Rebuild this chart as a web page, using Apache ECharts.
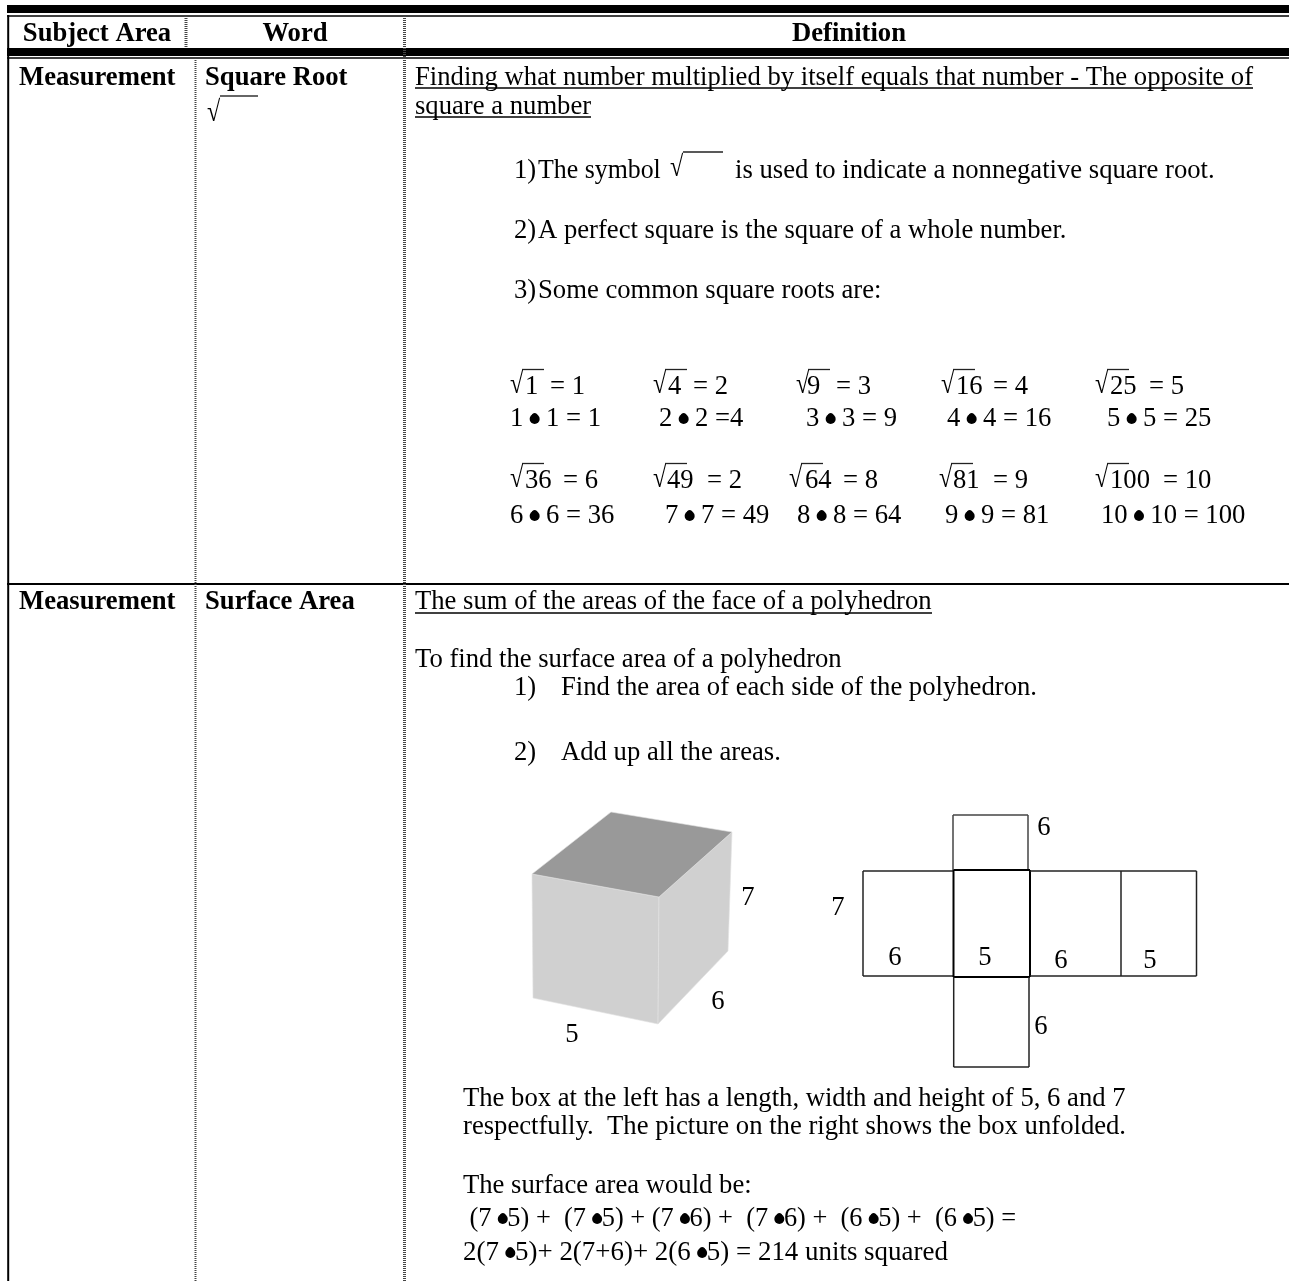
<!DOCTYPE html>
<html><head><meta charset="utf-8">
<script src="https://cdn.jsdelivr.net/npm/echarts@6/dist/echarts.min.js"></script>
<style>html,body{margin:0;padding:0;background:#fff}#c{width:1289px;height:1281px}</style>
</head><body><div id="c"></div>
<script>
const FONT_SIZE = 26.67;
const TEXT_SHIFT = 1;
const headerLabels = ['Subject Area', 'Word', 'Definition'];
const headerCenters = [[97,33],[295,33],[849,33]];
const subjects = ['Measurement', 'Measurement'];
const words = ['Square Root', 'Surface Area'];
const rowTextY = [77, 601];
const subjectX = 19, wordX = 205;

// plain text lines of the definition cells: [text, x, centre y, horizontal squeeze]
const bodyText = [
 ['Finding what number multiplied by itself equals that number - The opposite of',415,77],
 ['square a number',415,106],
 ['1)',514,170],['The symbol',538,170,0.97],['is used to indicate a nonnegative square root.',735,170],
 ['2)',514,230],['A perfect square is the square of a whole number.',538,230],
 ['3)',514,290],['Some common square roots are:',538,290],
 ['The sum of the areas of the face of a polyhedron',415,601],
 ['To find the surface area of a polyhedron',415,659],
 ['1)',514,687],['Find the area of each side of the polyhedron.',561,687],
 ['2)',514,752],['Add up all the areas.',561,752],
 ['The box at the left has a length, width and height of 5, 6 and 7',463,1098],
 ['respectfully.  The picture on the right shows the box unfolded.',463,1126],
 ['The surface area would be:',463,1185],
 [' (7 •5) +  (7 •5) + (7 •6) +  (7 •6) +  (6 •5) +  (6 •5) =',463,1218,0.989],
 ['2(7 •5)+ 2(7+6)+ 2(6 •5) = 214 units squared',463,1252,1.01],
 ['1 • 1 = 1',510,418],['2 • 2 =4',659,418],['3 • 3 = 9',806,418],['4 • 4 = 16',947,418],['5 • 5 = 25',1107,418],
 ['6 • 6 = 36',510,515],['7 • 7 = 49',665,515],['8 • 8 = 64',797,515],['9 • 9 = 81',945,515],['10 • 10 = 100',1101,515]
];
// square roots: [radicand, result text, radical x, centre y, radicand x, x of result]
const roots = [
 ['1','= 1',510,386,525,550],['4','= 2',653,386,668,693],['9','= 3',796,386,807,836],['16','= 4',941,386,956,993],['25','= 5',1095,386,1110,1149],
 ['36','= 6',510,480,525,563],['49','= 2',653,480,667,707],['64','= 8',789,480,805,843],['81','= 9',939,480,953,993],['100','= 10',1095,480,1110,1163]
];
// figure labels: [text, centre x, centre y]
const figureLabels = [['7',748,897],['6',718,1001],['5',572,1034],['6',1044,827],['7',838,907],['6',895,957],['5',985,957],['6',1061,960],['5',1150,960],['6',1041,1026]];

// lines: [x1,y1,x2,y2,width,colour,dash]
const BLACK = '#000';
const ruleLines = [
 [7,9,1289,9,8,BLACK],[7,16,1289,16,1.5,BLACK],[7,52,1289,52,8,BLACK],[7,58,1289,58,1.3,BLACK],[7,584,1289,584,2,BLACK],
 [8.2,15,8.2,1281,2,BLACK],
 [186,16,186,48,3,'#444',[1,1]],[195.5,58,195.5,1281,2,'#444',[1,1]],[404.5,16,404.5,1281,3,'#444',[1,1]],
 [415,88,1253,88,1.5,BLACK],[415,117,591,117,1.5,BLACK],[415,613,932,613,1.5,BLACK],
 [220,96,258,96,1.5,'#333']
];
const netLines = [
 [953,815,1028,815,1.5,'#444'],[953,815,953,870,1.5,'#444'],[1028,815,1028,870,1.5,'#444'],
 [863,871,953,871,1.5,'#222'],[863,976,953,976,1.5,'#222'],[863,871,863,976,1.5,'#222'],
 [953.5,870,1030,870,2,BLACK],[953.5,977,1030,977,2,BLACK],[953.5,870,953.5,977,2,BLACK],[1030,870,1030,977,2,BLACK],
 [1030,871,1196.5,871,1.5,'#222'],[1030,976,1196.5,976,1.5,'#222'],[1121,871,1121,976,1.5,'#222'],[1196.5,871,1196.5,976,1.5,'#222'],
 [953.7,977,953.7,1067,1.5,'#222'],[1029,977,1029,1067,1.5,'#222'],[953.7,1067,1029,1067,1.5,'#222']
];
// cube faces: points and fill
const cubeFaces = [
 [[[532,874],[659,897],[658,1024],[533,998]],'#d0d0d0'],
 [[[659,897],[732,832],[728,951],[658,1024]],'#d0d0d0'],
 [[[611,812],[732,832],[659,897],[532,874]],'#999999']
];

const fontOf = b => (b?'bold ':'')+FONT_SIZE+'px "Liberation Serif"';
const meter = document.createElement('canvas').getContext('2d');
meter.font = fontOf(false);

const items = [];
headerLabels.forEach((t,i)=>items.push({k:'t',t,x:headerCenters[i][0],y:headerCenters[i][1],b:1,a:'center'}));
subjects.forEach((t,i)=>items.push({k:'t',t,x:subjectX,y:rowTextY[i],b:1}));
words.forEach((t,i)=>items.push({k:'t',t,x:wordX,y:rowTextY[i],b:1}));
bodyText.forEach(r=>{
  const s=r[3]||1;
  items.push({k:'t',t:r[0],x:r[1],y:r[2],s});
  // the reference's bullets are heavier than the font's own
  for(let i=r[0].indexOf('•');i>=0;i=r[0].indexOf('•',i+1)){
    const cx=r[1]+s*(meter.measureText(r[0].slice(0,i)).width+meter.measureText('•').width/2);
    items.push({k:'c',x:cx,y:r[2]+1,r:5});
  }
});
figureLabels.forEach(r=>items.push({k:'t',t:r[0],x:r[1],y:r[2],a:'center'}));
roots.forEach(r=>{
  items.push({k:'t',t:'√',x:r[2],y:r[3]-2,s:0.9,sy:1.1});
  items.push({k:'t',t:r[0],x:r[4],y:r[3]});
  items.push({k:'t',t:r[1],x:r[5],y:r[3]});
  items.push({k:'l',p:[r[2]+12,r[3]-16.5,r[2]+34,r[3]-16.5],w:1.3,c:'#222'});
});
// stand-alone radicals in the first row
items.push({k:'t',t:'√',x:207,y:112,s:0.9,sy:1.1});
items.push({k:'t',t:'√',x:670,y:167,s:0.9,sy:1.1});
items.push({k:'l',p:[683,152,723,152],w:1.5,c:'#222'});
ruleLines.forEach(r=>items.push({k:'l',p:r.slice(0,4),w:r[4],c:r[5],d:r[6]}));
netLines.forEach(r=>items.push({k:'l',p:r.slice(0,4),w:r[4],c:r[5]}));
cubeFaces.forEach(f=>items.push({k:'p',pts:f[0],c:f[1]}));

const chart = echarts.init(document.getElementById('c'),null,{renderer:'canvas'});
chart.setOption({
 animation:false,
 backgroundColor:'#fff',
 grid:{left:0,right:0,top:0,bottom:0},
 xAxis:{type:'value',min:0,max:1289,show:false},
 yAxis:{type:'value',min:0,max:1281,inverse:true,show:false},
 series:[{
  type:'custom',coordinateSystem:'cartesian2d',silent:true,clip:false,
  data:items.map((_,i)=>[i,0]),
  encode:{x:0,y:1},
  renderItem(params,api){
    const it=items[params.dataIndex];
    if(it.k==='t'){
      const c=api.coord([it.x,it.y+TEXT_SHIFT]);
      return {type:'text',x:c[0],y:c[1],scaleX:it.s||1,scaleY:it.sy||1,style:{text:it.t,x:0,y:0,fill:'#000',font:fontOf(it.b),
        textAlign:it.a||'left',textVerticalAlign:'middle',verticalAlign:'middle'}};
    }
    if(it.k==='c'){
      const c=api.coord([it.x,it.y]);
      return {type:'circle',shape:{cx:c[0],cy:c[1],r:it.r},style:{fill:'#000'}};
    }
    if(it.k==='l'){
      const a=api.coord([it.p[0],it.p[1]]),b=api.coord([it.p[2],it.p[3]]);
      return {type:'line',shape:{x1:a[0],y1:a[1],x2:b[0],y2:b[1]},style:{stroke:it.c,lineWidth:it.w,lineDash:it.d||null}};
    }
    return {type:'polygon',shape:{points:it.pts.map(p=>api.coord(p))},style:{fill:it.c,stroke:'#e2e2e2',lineWidth:0.6}};
  }
 }]
});
</script></body></html>
